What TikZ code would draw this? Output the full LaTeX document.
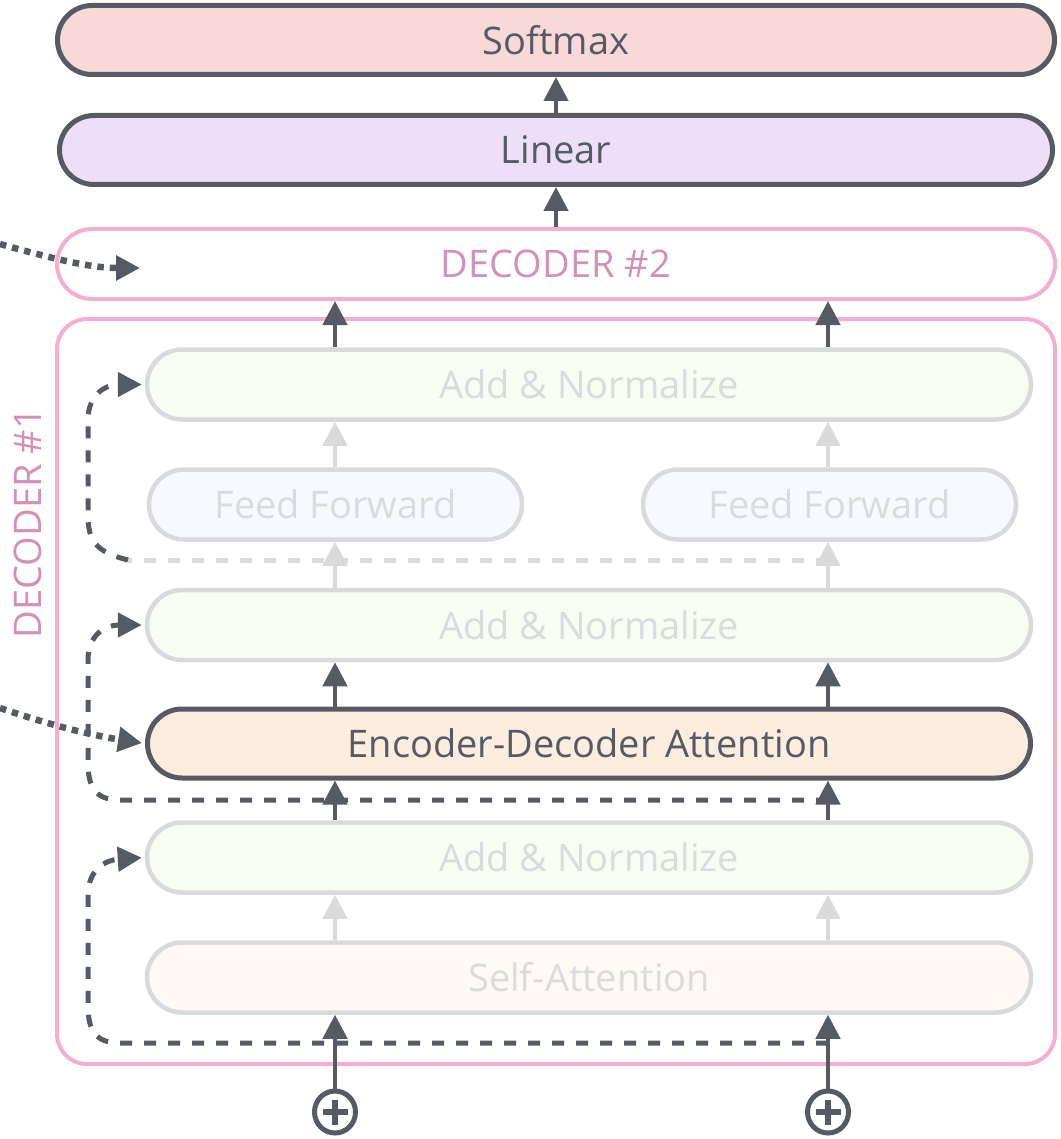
\documentclass[tikz,border=0pt]{standalone}
\usepackage{fontspec}
\setmainfont{Open Sans}
\usetikzlibrary{arrows.meta,calc,shapes.geometric}

\definecolor{ink}{HTML}{555A63}
\definecolor{softfill}{HTML}{F8D9D7}
\definecolor{linfill}{HTML}{EEDFF8}
\definecolor{pinkline}{HTML}{F3AED0}
\definecolor{pinktext}{HTML}{D291B6}
\definecolor{fade}{HTML}{D9DADC}
\definecolor{fadetext}{HTML}{DADBDD}
\definecolor{anfill}{HTML}{F9FCF3}
\definecolor{fffill}{HTML}{F8F9FE}
\definecolor{edfill}{HTML}{FCEDDF}
\definecolor{safill}{HTML}{FFF9F5}

\begin{document}
\begin{tikzpicture}[x=1pt,y=-1pt,
  lbl/.style={font=\fontsize{38}{42}\selectfont},
  pill/.style={rectangle, inner sep=0pt, lbl},
  darkpill/.style={pill, draw=ink, text=ink, line width=5pt, rounded corners=34.5pt,
    minimum height=69pt},
  fadepill/.style={pill, draw=fade, text=fadetext, line width=4.5pt, rounded corners=35pt,
    minimum height=70pt},
  tip/.style={-{Triangle[length=24pt,width=24pt]}},
  uparrow/.style={tip, draw=ink, line width=4.5pt},
  fadearrow/.style={tip, draw=fade, line width=4.5pt},
  resid/.style={tip, draw=ink, line width=5pt, dash pattern=on 12pt off 12pt},
  fadeResid/.style={draw=fade, line width=5pt, dash pattern=on 12pt off 12pt},
  feed/.style={tip, draw=ink, line width=6.5pt, dash pattern=on 6.5pt off 6pt},
  plusnode/.style={ellipse, draw=ink, line width=5pt, minimum width=41pt, minimum height=42pt, inner sep=0pt}
]
\useasboundingbox (0,0) rectangle (1060,1139);

% column positions of the two token streams
\coordinate (colL) at (335,0);
\coordinate (colR) at (828,0);

% output head
\node[darkpill, fill=softfill, minimum width=997pt] (softmax) at (556,40) {Softmax};
\node[darkpill, fill=linfill, minimum width=993pt] (linear) at (556,150) {Linear};

% decoder stack
\node[pill, draw=pinkline, line width=4pt, rounded corners=35pt, minimum width=998pt,
  minimum height=70pt, text=pinktext] (dec2) at (556,264) {DECODER \#2};
\node[rectangle, draw=pinkline, line width=4pt, rounded corners=30pt, minimum width=998pt,
  minimum height=745pt] (dec1) at (556,691.5) {};
\node[lbl, rotate=90, text=pinktext] (dec1label) at (28,523) {DECODER \#1};

% layers inside decoder #1
\node[fadepill, fill=anfill, minimum width=884pt] (an1) at (589,384.5) {Add \& Normalize};
\node[fadepill, fill=fffill, minimum width=373pt] (ffL) at (335.5,504.5) {Feed Forward};
\node[fadepill, fill=fffill, minimum width=373pt] (ffR) at (829.5,504.5) {Feed Forward};
\node[fadepill, fill=anfill, minimum width=884pt] (an2) at (589,625) {Add \& Normalize};
\node[darkpill, fill=edfill, minimum width=883pt] (encdec) at (589,743.5) {Encoder-Decoder Attention};
\node[fadepill, fill=anfill, minimum width=884pt] (an3) at (589,857.5) {Add \& Normalize};
\node[fadepill, fill=safill, minimum width=884pt] (selfatt) at (589,977.5) {Self-Attention};

% positional-encoding sums
\node[plusnode] (addL) at (335,1112) {};
\node[plusnode] (addR) at (828,1112) {};
\foreach \n in {addL,addR}{
  \draw[ink, line width=6.5pt] ($(\n.center)+(-12.5,0)$) -- ($(\n.center)+(12.5,0)$);
  \draw[ink, line width=6.5pt] ($(\n.center)+(0,-12.5)$) -- ($(\n.center)+(0,12.5)$);
}

% residual connections
\coordinate (rb) at (828,1043);
\coordinate (rm) at (828,800);
\coordinate (rt) at (828,560);
\coordinate (rtl) at (128,560);
\draw[resid, shorten >=3pt] (rb) -- (120,1043) .. controls (95,1043) and (88,1030) .. (88,1005)
  -- (88,895) .. controls (88,870) and (105,860) .. (an3.west);
\draw[resid, shorten >=3pt] (rm) -- (120,800) .. controls (95,800) and (88,787) .. (88,762)
  -- (88,660) .. controls (88,635) and (105,625) .. (an2.west);
\draw[fadeResid] (rt) -- (rtl);
\draw[resid, shorten >=3pt] (rtl) .. controls (95,552) and (88,540) .. (88,515)
  -- (88,420) .. controls (88,395) and (105,384.5) .. (an1.west);

% encoder output feeding the attention layers
\coordinate (encL) at (0,708);
\coordinate (encT) at (0,244);
\draw[feed, shorten >=3pt] (encL) .. controls (50,725) and (90,735) .. (encdec.west);
\draw[feed] (encT) .. controls (50,258) and (90,268) .. (140,268);

% upward flow
\foreach \c in {colL,colR}{
  \draw[uparrow] (\c |- addL.north) -- (\c |- selfatt.south);
  \draw[fadearrow] (\c |- selfatt.north) -- (\c |- an3.south);
  \draw[uparrow] (\c |- an3.north) -- (\c |- encdec.south);
  \draw[uparrow] (\c |- encdec.north) -- (\c |- an2.south);
  \draw[fadearrow] (\c |- an2.north) -- (\c |- ffL.south);
  \draw[fadearrow] (\c |- ffL.north) -- (\c |- an1.south);
  \draw[uparrow] (\c |- an1.north) -- (\c |- dec2.south);
}
\draw[uparrow] (dec2.north) -- (linear.south);
\draw[uparrow] (linear.north) -- (softmax.south);
\end{tikzpicture}
\end{document}
